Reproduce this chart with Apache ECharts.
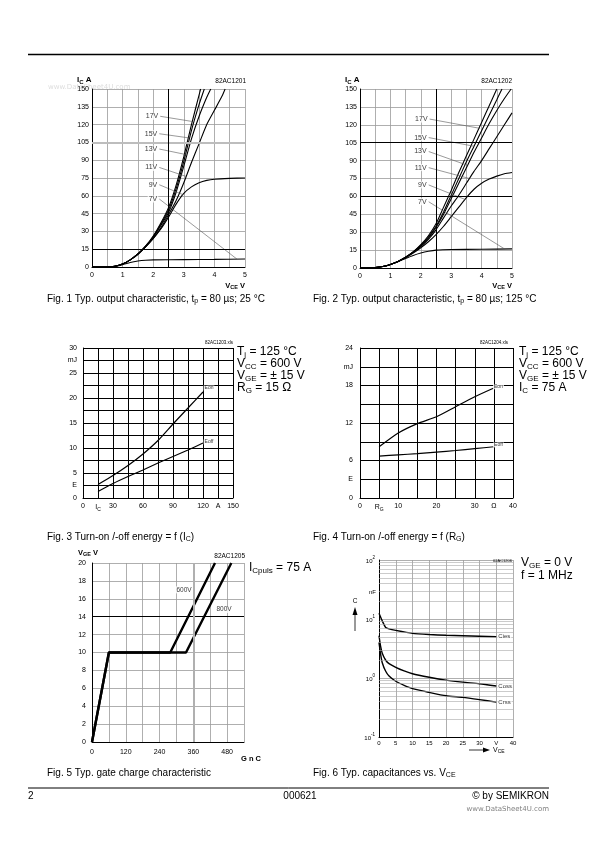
<!DOCTYPE html>
<html><head><meta charset="utf-8">
<script src="https://cdn.jsdelivr.net/npm/echarts@6/dist/echarts.min.js"></script>
<style>html,body{margin:0;padding:0;background:#fff}#c{width:595px;height:842px}</style>
</head><body><div id="c"></div>
<script>
// ---------- Fig.1 output characteristic 25 °C : [VCE V, IC A]
const fig1_17V = [[0,0],[0.5,0],[0.75,0.6],[1,2.5],[1.25,6],[1.5,11],[1.75,17.5],[2,26],[2.25,37],[2.5,50],[2.75,69],[3,93],[3.25,120],[3.5,145],[3.55,150]];
const fig1_15V = [[0,0],[0.5,0],[0.75,0.6],[1,2.5],[1.25,6],[1.5,11],[1.75,17.5],[2,25.5],[2.25,36],[2.5,48],[2.75,66],[3,89],[3.25,115],[3.5,137],[3.67,150]];
const fig1_13V = [[0,0],[0.5,0],[0.75,0.6],[1,2.5],[1.25,6],[1.5,11],[1.75,17],[2,25],[2.25,35],[2.5,46],[2.75,63],[3,85],[3.25,108],[3.5,127],[3.75,143],[3.88,150]];
const fig1_11V = [[0,0],[0.5,0],[0.75,0.6],[1,2.5],[1.25,6],[1.5,11],[1.75,17],[2,24],[2.25,33],[2.5,44],[2.75,56],[3,71],[3.25,88],[3.5,104],[3.75,120],[4,132],[4.25,144],[4.35,150]];
const fig1_9V  = [[0,0],[0.5,0],[0.75,0.6],[1,2.5],[1.25,6],[1.5,10.5],[1.75,17],[2,24],[2.25,32],[2.5,42],[2.75,53],[3,62],[3.25,67.5],[3.5,71],[3.75,73],[4,74],[4.5,74.7],[5,75]];
const fig1_7V  = [[0,0],[0.5,0],[0.75,0.5],[1,2],[1.25,3.8],[1.5,5],[1.75,5.7],[2,6],[3,6.2],[4,6.4],[5,6.7]];
const fig1_tagNames = ['17V','15V','13V','11V','9V','7V'];
const fig1_tagFrom = [[2.23,127],[2.2,112.3],[2.2,99.4],[2.2,83.9],[2.2,69.3],[2.2,57.3]];
const fig1_tagTo   = [[3.26,122.7],[3.19,108.7],[3.10,94.6],[3.08,76.3],[2.98,60.9],[4.74,6.6]];

// ---------- Fig.2 output characteristic 125 °C
const fig2_17V = [[0,0],[0.25,0.1],[0.5,0.4],[0.75,1.3],[1,3],[1.25,5.5],[1.5,9],[1.75,13.5],[2,19.5],[2.25,27],[2.5,37],[2.75,51],[3,65],[3.25,80],[3.5,94],[3.75,108],[4,122],[4.25,136],[4.5,150]];
const fig2_15V = [[0,0],[0.25,0.1],[0.5,0.4],[0.75,1.3],[1,3],[1.25,5.5],[1.5,9],[1.75,13.5],[2,19],[2.25,26],[2.5,35],[2.75,47],[3,61],[3.25,75],[3.5,89],[3.75,102],[4,115],[4.25,128],[4.5,141],[4.67,150]];
const fig2_13V = [[0,0],[0.25,0.1],[0.5,0.4],[0.75,1.3],[1,3],[1.25,5.5],[1.5,9],[1.75,13.5],[2,18.5],[2.25,25],[2.5,34],[2.75,45],[3,58],[3.25,71],[3.5,84],[3.75,97],[4,109],[4.25,121],[4.5,132],[4.75,142],[4.97,150]];
const fig2_11V = [[0,0],[0.25,0.1],[0.5,0.4],[0.75,1.3],[1,3],[1.25,5.5],[1.5,9],[1.75,13],[2,18],[2.25,24],[2.5,32],[2.75,42],[3,52],[3.25,61],[3.5,71],[3.75,81],[4,90],[4.25,100],[4.5,110],[4.75,120],[5,130]];
const fig2_9V  = [[0,0],[0.25,0.1],[0.5,0.4],[0.75,1.3],[1,3],[1.25,5.5],[1.5,8.5],[1.75,12.5],[2,17],[2.25,22],[2.5,28],[2.75,35],[3,43],[3.25,51],[3.5,59],[3.75,66],[4,71],[4.25,74.5],[4.5,77],[4.75,79],[5,80]];
const fig2_7V  = [[0,0],[0.25,0.1],[0.5,0.4],[0.75,1.3],[1,3],[1.25,5.3],[1.5,8],[1.75,10.5],[2,12.5],[2.25,14],[2.5,15],[3,15.5],[4,15.7],[5,16]];
const fig2_tagNames = ['17V','15V','13V','11V','9V','7V'];
const fig2_tagFrom = [[2.29,124.8],[2.26,109.3],[2.26,97.6],[2.26,84.1],[2.26,69.6],[2.26,55.5]];
const fig2_tagTo   = [[3.95,117],[3.75,102],[3.54,86],[3.6,75],[3.45,57.5],[4.76,15.9]];

// ---------- Fig.3 energy vs IC
const fig3_ic   = [15,30,45,60,75,90,105,120];
const fig3_eon  = [2.7,4.5,6.5,8.8,11.5,14.8,18,21.2];
const fig3_eoff = [1.3,2.9,4.3,5.6,7,8.3,9.6,11];

// ---------- Fig.4 energy vs RG
const fig4_rg   = [5,10,15,20,25,30,35];
const fig4_eon  = [8.2,10.4,11.9,13.0,14.6,16.2,17.6];
const fig4_eoff = [6.7,6.9,7.1,7.35,7.6,7.9,8.2];

// ---------- Fig.5 gate charge [QG nC, VGE V]
const fig5_600V = [[0,0],[60,10],[278,10],[437,20]];
const fig5_800V = [[0,0],[60,10],[334,10],[495,20]];

// ---------- Fig.6 capacitances [VCE V, C nF]
const fig6_cies = [[0,12.5],[1,9.2],[2,7.2],[3,6.8],[5,6.4],[10,5.7],[15,5.45],[20,5.3],[25,5.2],[30,5.1],[35,5.0]];
const fig6_coss = [[0,5.2],[0.5,3.4],[1,2.6],[2,2.0],[3,1.75],[5,1.52],[7.5,1.32],[10,1.18],[15,1.03],[20,0.92],[25,0.85],[30,0.8],[35,0.73]];
const fig6_crss = [[0,4.0],[0.5,2.5],[1,1.8],[2,1.3],[3,1.08],[5,0.88],[7.5,0.75],[10,0.66],[15,0.57],[20,0.5],[25,0.47],[30,0.43],[35,0.39]];
const fig6_minor = [0.2,0.3,0.4,0.5,0.6,0.7,0.8,0.9,2,3,4,5,6,7,8,9,20,30,40,50,60,70,80,90];

const FF = '"Liberation Sans", Arial, sans-serif';
const chart = echarts.init(document.getElementById('c'), null, {renderer:'canvas'});

const grids = [
  {left:92, top:89, width:153, height:178},
  {left:360, top:89, width:152, height:179},
  {left:83, top:348, width:150, height:150},
  {left:360, top:348, width:153, height:150},
  {left:92, top:563, width:152, height:179},
  {left:379, top:560, width:134, height:177}
];

const subRich = (n, s) => ({
  n:{fontSize:n, fontFamily:FF, color:'#000', lineHeight:n+2},
  s:{fontSize:s, fontFamily:FF, color:'#000', lineHeight:s, verticalAlign:'bottom'}
});
const supRich = (n, s) => ({
  n:{fontSize:n, fontFamily:FF, color:'#000', lineHeight:n+3, verticalAlign:'bottom'},
  s:{fontSize:s, fontFamily:FF, color:'#000', lineHeight:s, verticalAlign:'top'}
});

function vAxis(g, min, max, interval, grey, fmt, margin, extra) {
  return Object.assign({
    gridIndex:g, type:'value', min, max, interval,
    axisLine:{show:true, onZero:false, lineStyle:{color:'#000', width:1}},
    axisTick:{show:false},
    splitLine:{show:true, lineStyle:{color: grey ? '#9a9a9a' : '#000', width: grey ? 0.8 : 1}},
    axisLabel:{fontSize:7, fontFamily:FF, color:'#000', margin, formatter:fmt, rich:subRich(7,5)}
  }, extra || {});
}

const f1x = v => Number.isInteger(v) ? String(v) : '';
const f3x = v => ({0:'0',15:'{n|I}{s|C}',30:'30',60:'60',90:'90',120:'120',135:'A',150:'150'})[v] || '';
const f3y = v => ({0:'0',2.5:'E',5:'5',10:'10',15:'15',20:'20',25:'25',27.5:'mJ',30:'30'})[v] || '';
const f4x = v => ({0:'0',5:'{n|R}{s|G}',10:'10',20:'20',30:'30',35:'Ω',40:'40'})[v] || '';
const f4y = v => ({0:'0',3:'E',6:'6',12:'12',18:'18',21:'mJ',24:'24'})[v] || '';
const f5x = v => (v % 120 === 0 && v <= 480) ? String(v) : '';
const f6x = v => v === 35 ? 'V' : String(v);
const f6y = v => '{n|10}{s|' + Math.round(Math.log10(v)) + '}';

const xAxes = [
  vAxis(0,0,5,0.5,true,f1x,5),
  vAxis(1,0,5,0.5,true,f1x,5),
  vAxis(2,0,150,15,false,f3x,5),
  vAxis(3,0,40,5,false,f4x,5),
  vAxis(4,0,540,60,true,f5x,7),
  vAxis(5,0,40,5,true,f6x,3, {axisLabel:{fontSize:6, fontFamily:FF, color:'#000', margin:3, formatter:f6x}})
];
const yAxes = [
  vAxis(0,0,150,15,true,null,3),
  vAxis(1,0,150,15,true,null,3),
  vAxis(2,0,30,2.5,false,f3y,6),
  vAxis(3,0,24,3,false,f4y,7),
  vAxis(4,0,20,2,true,null,6),
  {gridIndex:5, type:'log', logBase:10, min:0.1, max:100,
   axisLine:{show:true, lineStyle:{color:'#000', width:1}}, axisTick:{show:false},
   splitLine:{show:true, lineStyle:{color:'#9a9a9a', width:0.8}},
   axisLabel:{fontSize:6, margin:4, formatter:f6y, rich:supRich(6,4.5)}}
];

const series = [];
function curve(g, data, w, extra) {
  series.push(Object.assign({type:'line', xAxisIndex:g, yAxisIndex:g, data, symbol:'none', showSymbol:false,
    smooth:0.2, lineStyle:{color:'#000', width:w || 1.1}, z:3, silent:true, animation:false}, extra || {}));
}
function marks(g, data) {
  series.push({type:'line', xAxisIndex:g, yAxisIndex:g, data:[[0,0]], symbol:'none', lineStyle:{opacity:0}, z:1, silent:true, animation:false,
    markLine:{silent:true, symbol:['none','none'], label:{show:false}, animation:false, data}});
}
function tags(g, pts, names, pos, size, extraLabel) {
  series.push({type:'scatter', xAxisIndex:g, yAxisIndex:g, symbolSize:0.1, itemStyle:{color:'rgba(0,0,0,0)'}, z:6, silent:true, animation:false,
    data: pts.map(p => p.slice()),
    label:Object.assign({show:true, position:pos, distance:1, fontSize:size, fontFamily:FF, color:'#000', backgroundColor:'#fff', padding:[0,1],
      formatter: p => names[p.dataIndex]}, extraLabel || {})});
}
function leaders(g, from, to) {
  from.forEach((f, i) => curve(g, [f, to[i]], 0.6, {smooth:false, lineStyle:{color:'#555', width:0.6}, z:4}));
}
const solid = (c, w) => ({color:c, width:w, type:'solid'});

// Fig 1
marks(0, [{yAxis:15, lineStyle:solid('#000',1)}, {yAxis:105, lineStyle:solid('#bdbdbd',2)}, {xAxis:2.5, lineStyle:solid('#000',1)}]);
[fig1_17V, fig1_15V, fig1_13V, fig1_11V, fig1_9V, fig1_7V].forEach(d => curve(0, d));
leaders(0, fig1_tagFrom, fig1_tagTo);
tags(0, fig1_tagFrom, fig1_tagNames, 'left', 7);
// Fig 2
marks(1, [{yAxis:60, lineStyle:solid('#000',1)}, {yAxis:105, lineStyle:solid('#000',1)}, {xAxis:2.5, lineStyle:solid('#000',1)}]);
[fig2_17V, fig2_15V, fig2_13V, fig2_11V, fig2_9V, fig2_7V].forEach(d => curve(1, d));
leaders(1, fig2_tagFrom, fig2_tagTo);
tags(1, fig2_tagFrom, fig2_tagNames, 'left', 7);
// Fig 3
curve(2, fig3_ic.map((x,i)=>[x, fig3_eon[i]]), 1.2);
curve(2, fig3_ic.map((x,i)=>[x, fig3_eoff[i]]), 1.2);
tags(2, [[fig3_ic[7]+6, fig3_eon[7]+0.8],[fig3_ic[7]+6, fig3_eoff[7]+0.2]], ['Eon','Eoff'], 'inside', 5);
// Fig 4
curve(3, fig4_rg.map((x,i)=>[x, fig4_eon[i]]), 1.2);
curve(3, fig4_rg.map((x,i)=>[x, fig4_eoff[i]]), 1.2);
tags(3, [[fig4_rg[6]+1.2, fig4_eon[6]+0.2],[fig4_rg[6]+1.2, fig4_eoff[6]+0.3]], ['Eon','Eoff'], 'inside', 5);
// Fig 5
marks(4, [{yAxis:14, lineStyle:solid('#000',1)}, {xAxis:360, lineStyle:solid('#b0b0b0',2)}]);
curve(4, fig5_600V, 2.4, {smooth:false});
curve(4, fig5_800V, 2.4, {smooth:false});
tags(4, [[327,17],[469,14.8]], ['600V','800V'], 'inside', 6.5);
// Fig 6
marks(5, fig6_minor.map(v => ({yAxis:v, lineStyle:solid('#a8a8a8',0.6)})));
curve(5, fig6_cies, 1.4);
curve(5, fig6_coss, 1.4);
curve(5, fig6_crss, 1.4);
tags(5, [fig6_cies[fig6_cies.length-1], fig6_coss[fig6_coss.length-1], fig6_crss[fig6_crss.length-1]], ['Cies','Coss','Crss'], 'right', 6);

// ---------- text & decoration
const G = [];
function T(x, y, text, size, o) {
  o = o || {};
  const st = {text, x:0, y:0, font:(o.bold?'bold ':'') + size + 'px ' + FF, fill:o.color || '#000', align:o.align || 'left', verticalAlign:'middle'};
  if (o.rich) st.rich = o.rich;
  G.push({type:'text', x, y, z:100, silent:true, style:st});
}
function L(x1,y1,x2,y2,w,c){ G.push({type:'line', z:100, silent:true, shape:{x1,y1,x2,y2}, style:{stroke:c||'#000', lineWidth:w||1}}); }
function P(points){ G.push({type:'polygon', z:100, silent:true, shape:{points}, style:{fill:'#000'}}); }
const rs = (n, s, bold) => ({
  n:{fontSize:n, fontFamily:FF, fontWeight:bold?'bold':'normal', lineHeight:n+2},
  s:{fontSize:s, fontFamily:FF, fontWeight:bold?'bold':'normal', lineHeight:s, verticalAlign:'bottom'}
});

L(28,54.5,549,54.5,1.5);
L(28,788,549,788,1);
T(28,796,'2',10);
T(300,796,'000621',10,{align:'center'});
T(549,796,'© by SEMIKRON',10,{align:'right'});
G.push({type:'text', x:549, y:809, z:100, silent:true, style:{text:'www.DataSheet4U.com', font:'7px "DejaVu Sans", sans-serif', fill:'#808080', align:'right', verticalAlign:'middle'}});

// Fig1 texts
G.push({type:'text', x:48, y:87, z:0, silent:true, style:{text:'www.DataSheet4U.com', font:'7px "DejaVu Sans", sans-serif', fill:'#dddddd', verticalAlign:'middle'}});
T(77,80,'{n|I}{s|C}{n| A}',8,{rich:rs(8,6,true)});
T(246,81,'82AC1201',6.5,{align:'right'});
T(245,286,'{n|V}{s|CE}{n| V}',7.5,{align:'right', rich:rs(7.5,5.5,true)});
T(47,299,'{n|Fig. 1 Typ. output characteristic, t}{s|p}{n| = 80 µs; 25 °C}',10,{rich:rs(10,7)});
// Fig2 texts
T(345,80,'{n|I}{s|C}{n| A}',8,{rich:rs(8,6,true)});
T(512,81,'82AC1202',6.5,{align:'right'});
T(512,286,'{n|V}{s|CE}{n| V}',7.5,{align:'right', rich:rs(7.5,5.5,true)});
T(313,299,'{n|Fig. 2 Typ. output characteristic, t}{s|p}{n| = 80 µs; 125 °C}',10,{rich:rs(10,7)});
// Fig3 texts
T(233,343,'82AC1203.xls',4.5,{align:'right'});
T(237,352,'{n|T}{s|j}{n| = 125 °C}',12,{rich:rs(12,8)});
T(237,364,'{n|V}{s|CC}{n| = 600 V}',12,{rich:rs(12,8)});
T(237,376,'{n|V}{s|GE}{n| = ± 15 V}',12,{rich:rs(12,8)});
T(237,388,'{n|R}{s|G}{n| = 15 Ω}',12,{rich:rs(12,8)});
T(47,537,'{n|Fig. 3 Turn-on /-off energy = f (I}{s|C}{n|)}',10,{rich:rs(10,7)});
// Fig4 texts
T(508,343,'82AC1204.xls',4.5,{align:'right'});
T(519,352,'{n|T}{s|j}{n| = 125 °C}',12,{rich:rs(12,8)});
T(519,364,'{n|V}{s|CC}{n| = 600 V}',12,{rich:rs(12,8)});
T(519,376,'{n|V}{s|GE}{n| = ± 15 V}',12,{rich:rs(12,8)});
T(519,388,'{n|I}{s|C}{n| = 75 A}',12,{rich:rs(12,8)});
T(313,537,'{n|Fig. 4 Turn-on /-off energy = f (R}{s|G}{n|)}',10,{rich:rs(10,7)});
// Fig5 texts
T(78,553,'{n|V}{s|GE}{n| V}',7.5,{rich:rs(7.5,5.5,true)});
T(245,556,'82AC1205',6.5,{align:'right'});
T(249,568,'{n|I}{s|Cpuls}{n| = 75 A}',12,{rich:rs(12,8)});
T(241,759,'G n C',7.5,{bold:true});
T(47,773,'Fig. 5 Typ. gate charge characteristic',10);
// Fig6 texts
T(512,561,'02AC1206',4,{align:'right'});
T(521,563,'{n|V}{s|GE}{n| = 0 V}',12,{rich:rs(12,8)});
T(521,576,'f = 1 MHz',12);
T(369,592,'nF',6);
T(355,601,'C',6.5,{align:'center'});
L(355,614,355,631,0.8);
P([[352.5,615],[357.5,615],[355,607]]);
L(469,750,484,750,0.8);
P([[483,747.5],[483,752.5],[490,750]]);
T(493,750,'{n|V}{s|CE}',7,{rich:rs(7,5)});
T(313,773,'{n|Fig. 6 Typ. capacitances vs. V}{s|CE}',10,{rich:rs(10,7)});

chart.setOption({
  animation:false,
  backgroundColor:'#fff',
  grid:grids,
  xAxis:xAxes,
  yAxis:yAxes,
  series,
  graphic:G
});
</script>
</body></html>
